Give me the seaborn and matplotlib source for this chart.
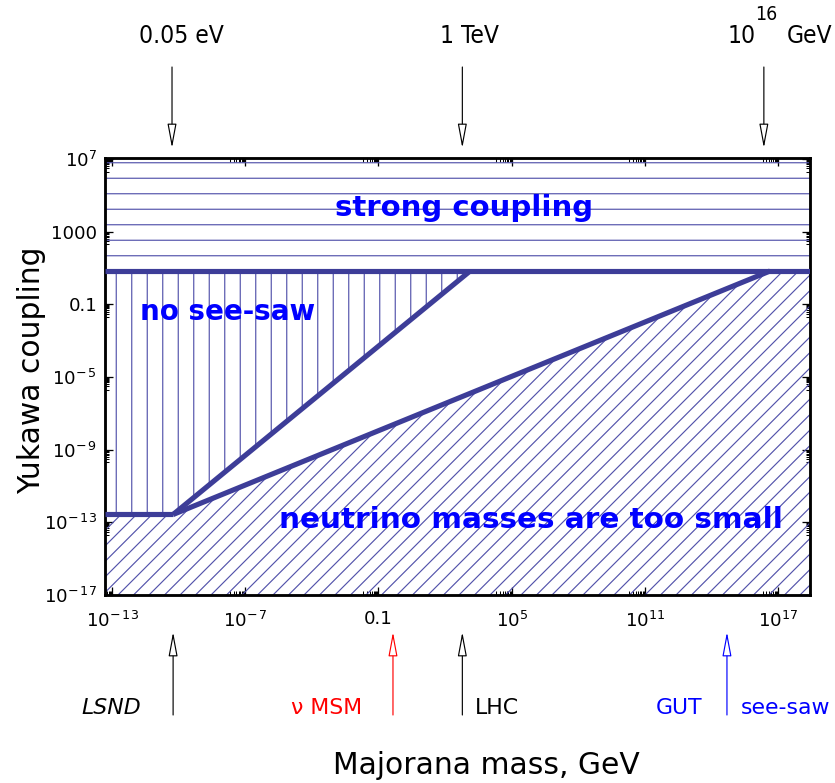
import numpy as np
import pandas as pd
import matplotlib
matplotlib.use("Agg")
import matplotlib.pyplot as plt
import seaborn as sns
from matplotlib.ticker import FixedLocator, NullFormatter

# ---------------- data ----------------
x_limits = [10**-13.32, 10**18.44]          # Majorana mass, GeV
y_limits = [1e-17, 10**7.05]                # Yukawa coupling
strong_coupling_y = 6.8                     # top boundary (strong coupling)
floor_y = 2.7e-13                           # lower-left horizontal boundary
knee_mass = 5.6e-11                         # 0.05 eV corner
upper_line_mass = [5.6e-11, 1.35e3]         # "no see-saw" boundary
upper_line_y = [2.7e-13, 6.8]
lower_line_mass = [5.6e-11, 4.4e16]         # "neutrino masses too small" boundary
lower_line_y = [2.7e-13, 6.8]

x_ticks = [1e-13, 1e-7, 1e-1, 1e5, 1e11, 1e17]
x_ticklabels = [r"$10^{-\,13}$", r"$10^{-\,7}$", "0.1", r"$10^{5}$", r"$10^{11}$", r"$10^{17}$"]
y_ticks = [1e7, 1e3, 1e-1, 1e-5, 1e-9, 1e-13, 1e-17]
y_ticklabels = [r"$10^{7}$", "1000", "0.1", r"$10^{-\,5}$", r"$10^{-\,9}$", r"$10^{-\,13}$", r"$10^{-\,17}$"]

top_marks_mass = [5e-11, 6e2, 2.3e16]       # 0.05 eV, 1 TeV, 10^16 GeV
bottom_marks_mass = [5.6e-11, 0.45, 6e2, 5e14]
bottom_marks_colors = ["black", "red", "black", "blue"]

# ---------------- style ----------------
sns.set_theme(style="white")
plt.rcParams["font.family"] = ["DejaVu Sans"]
plt.rcParams["hatch.linewidth"] = 0.9
plt.rcParams["mathtext.default"] = "regular"
plt.rcParams["text.color"] = "black"
plt.rcParams["xtick.color"] = "black"
plt.rcParams["ytick.color"] = "black"

DPI = 93
fig = plt.figure(figsize=(835 / DPI, 783 / DPI), dpi=DPI)
ax = fig.add_axes([105 / 835, 1 - 595 / 783, 705 / 835, 437 / 783])
ax.set_xscale("log")
ax.set_yscale("log")
ax.set_xlim(*x_limits)
ax.set_ylim(*y_limits)

line_col = "#3d3d98"
hatch_col = "#5252aa"

xl, xr = x_limits
yb, yt = y_limits

# strong coupling region (horizontal hatch)
ax.fill([xl, xr, xr, xl], [strong_coupling_y, strong_coupling_y, yt, yt],
        facecolor="none", edgecolor=hatch_col, hatch="-", linewidth=0, zorder=1)
# no see-saw region (vertical hatch)
ax.fill([xl, upper_line_mass[0], upper_line_mass[1], xl],
        [floor_y, upper_line_y[0], upper_line_y[1], strong_coupling_y],
        facecolor="none", edgecolor=hatch_col, hatch="|", linewidth=0, zorder=1)
# neutrino masses too small (diagonal hatch)
ax.fill([xl, xl, lower_line_mass[0], lower_line_mass[1], xr, xr],
        [yb, floor_y, lower_line_y[0], lower_line_y[1], strong_coupling_y, yb],
        facecolor="none", edgecolor=hatch_col, hatch="//", linewidth=0, zorder=1)

# boundary lines via seaborn
lines = pd.DataFrame({
    "mass": [xl, xr] + [xl, knee_mass] + upper_line_mass + lower_line_mass,
    "y": [strong_coupling_y, strong_coupling_y] + [floor_y, floor_y] + upper_line_y + lower_line_y,
    "seg": ["strong"] * 2 + ["floor"] * 2 + ["upper"] * 2 + ["lower"] * 2,
})
for seg, d in lines.groupby("seg", sort=False):
    sns.lineplot(data=d, x="mass", y="y", ax=ax, color=line_col, lw=4,
                 solid_capstyle="butt", zorder=3, legend=False)

ax.set_xlabel("")
ax.set_ylabel("")

# ticks
ax.xaxis.set_major_locator(FixedLocator(x_ticks))
ax.set_xticklabels(x_ticklabels)
ax.yaxis.set_major_locator(FixedLocator(y_ticks))
ax.set_yticklabels(y_ticklabels)
x_minor = [k * t / 10 for t in x_ticks for k in range(2, 10)]
y_minor = [k * t / 10 for t in y_ticks for k in range(2, 10)]
ax.xaxis.set_minor_locator(FixedLocator(x_minor))
ax.yaxis.set_minor_locator(FixedLocator(y_minor))
ax.xaxis.set_minor_formatter(NullFormatter())
ax.yaxis.set_minor_formatter(NullFormatter())
ax.tick_params(which="both", direction="in", top=True, right=True, bottom=True, left=True,
               color="black", labelsize=14, labelcolor="black")
ax.tick_params(which="major", length=6, width=1)
ax.tick_params(which="minor", length=3, width=0.8)
ax.tick_params(axis="x", pad=12)
ax.tick_params(axis="y", pad=6)
for s in ax.spines.values():
    s.set_visible(True)
    s.set_color("black")
    s.set_linewidth(2.2)

# region labels
ax.text(0.51, 0.886, "strong coupling", transform=ax.transAxes, color="blue",
        fontsize=22.5, fontweight="bold", ha="center", va="center", zorder=5)
ax.text(0.049, 0.648, "no see-saw", transform=ax.transAxes, color="blue",
        fontsize=21.5, fontweight="bold", ha="left", va="center", zorder=5)
ax.text(0.2468, 0.172, "neutrino masses are too small", transform=ax.transAxes, color="blue",
        fontsize=22.8, fontweight="bold", ha="left", va="center", zorder=5)

# axis titles
fig.text(32 / 835, 1 - 370 / 783, "Yukawa coupling", rotation=90, fontsize=23,
         ha="center", va="center")
fig.text(486 / 835, 1 - 765 / 783, "Majorana mass, GeV", fontsize=23,
         ha="center", va="center")

# arrows
xt = ax.get_xaxis_transform()
def arrow(xm, y_tail, y_tip, color):
    ax.annotate("", xy=(xm, y_tip), xytext=(xm, y_tail), xycoords=xt, textcoords=xt,
                annotation_clip=False,
                arrowprops=dict(arrowstyle="-|>,head_length=1.6,head_width=0.3",
                                mutation_scale=10, lw=0.9, color=color,
                                fc="white", ec=color, shrinkA=0, shrinkB=0))

top_tip = (595 - 148) / 437
top_tail = (595 - 67) / 437
for m in top_marks_mass:
    arrow(m, top_tail, top_tip, "black")
bot_tip = (595 - 632) / 437
bot_tail = (595 - 715) / 437
for m, c in zip(bottom_marks_mass, bottom_marks_colors):
    arrow(m, bot_tail, bot_tip, c)

# top labels
cond = dict(fontsize=19, fontstretch="condensed", va="center")
fig.text(181 / 835, 1 - 36 / 783, "0.05 eV", ha="center", **cond)
fig.text(470 / 835, 1 - 36 / 783, "1 TeV", ha="center", **cond)
fig.text(742 / 835, 1 - 36 / 783, "10", ha="center", **cond)
fig.text(766 / 835, 1 - 15 / 783, "16", ha="center", va="center",
         fontsize=15, fontstretch="condensed")
fig.text(810 / 835, 1 - 36 / 783, "GeV", ha="center", **cond)

# bottom labels
fig.text(111 / 835, 1 - 708 / 783, "LSND", ha="center", va="center", fontsize=17, style="italic")
fig.text(327 / 835, 1 - 708 / 783, "ν MSM", ha="center", va="center", fontsize=17, color="red")
fig.text(497 / 835, 1 - 708 / 783, "LHC", ha="center", va="center", fontsize=17)
fig.text(679 / 835, 1 - 708 / 783, "GUT", ha="center", va="center", fontsize=17, color="blue")
fig.text(786 / 835, 1 - 708 / 783, "see-saw", ha="center", va="center", fontsize=17, color="blue")

fig.savefig("out.png", dpi=DPI)
